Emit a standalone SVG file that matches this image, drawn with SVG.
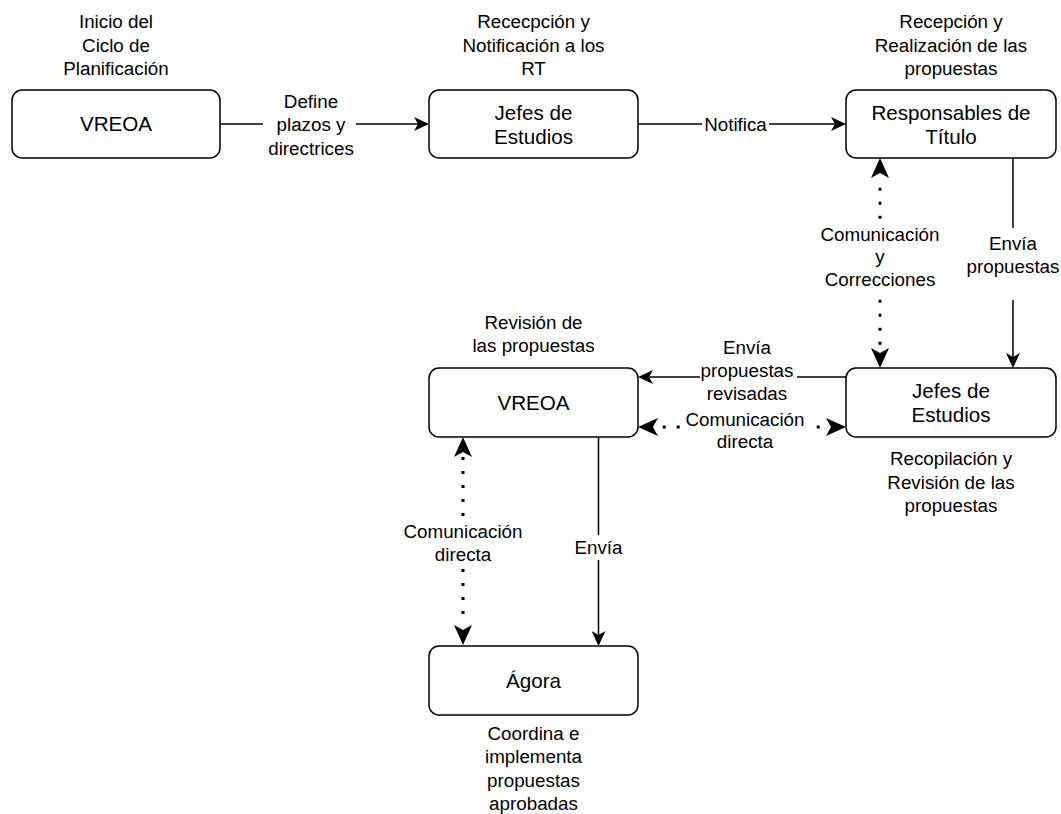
<svg xmlns="http://www.w3.org/2000/svg" width="1061" height="814" viewBox="0 0 1061 814">
<style>
.box{fill:#fff;stroke:#000;stroke-width:1.5}
.n{font-family:"Liberation Sans",Arial,Helvetica,sans-serif;font-size:20.6px;text-anchor:middle;fill:#000}
.t{font-family:"Liberation Sans",Arial,Helvetica,sans-serif;font-size:18.8px;text-anchor:middle;fill:#000}
.e{fill:none;stroke:#000;stroke-width:1.5}
.d{fill:none;stroke:#000;stroke-width:3;stroke-dasharray:3 11}
.bg{fill:#fff}
</style>
<defs>
<marker id="arr" markerUnits="userSpaceOnUse" viewBox="0 0 15 14" markerWidth="15" markerHeight="14" refX="13" refY="7" orient="auto">
<path d="M0,0 L15,7 L0,14 L4,7 Z" fill="#000"/>
</marker>
<marker id="darr" markerUnits="userSpaceOnUse" viewBox="0 0 20 18" markerWidth="20" markerHeight="18" refX="0" refY="9" orient="auto-start-reverse">
<path d="M0,0 L20,9 L0,18 L5,9 Z" fill="#000"/>
</marker>
</defs>
<rect width="1061" height="814" fill="#fff"/>

<g id="connectors">
<path class="e" d="M220,124 H427" marker-end="url(#arr)"/>
<path class="e" d="M638,124 H844" marker-end="url(#arr)"/>
<path class="e" d="M1013,158 V366" marker-end="url(#arr)"/>
<path class="d" d="M880,348 V178" style="stroke-dashoffset:-3.3" marker-start="url(#darr)" marker-end="url(#darr)"/>
<path class="e" d="M846,377 H640" marker-end="url(#arr)"/>
<path class="d" d="M658,427 H826" style="stroke-dashoffset:-4.7" marker-start="url(#darr)" marker-end="url(#darr)"/>
<path class="e" d="M598.5,437 V644" marker-end="url(#arr)"/>
<path class="d" d="M463,457 V625" marker-start="url(#darr)" marker-end="url(#darr)"/>

<g id="edge-labels">
<rect class="bg" x="263" y="90" width="93" height="70"/>
<text class="t" x="311" y="108">Define</text>
<text class="t" x="311" y="131">plazos y</text>
<text class="t" x="311" y="154.5">directrices</text>

<rect class="bg" x="702" y="112" width="67" height="24"/>
<text class="t" x="735.5" y="131">Notifica</text>

<rect class="bg" x="966" y="228" width="94" height="72"/>
<text class="t" x="1013" y="249.5">Envía</text>
<text class="t" x="1013" y="272.5">propuestas</text>

<rect class="bg" x="818" y="221" width="124" height="72"/>
<text class="t" x="880" y="240.5">Comunicación</text>
<text class="t" x="880" y="263">y</text>
<text class="t" x="880" y="285.5">Correcciones</text>

<rect class="bg" x="700" y="336" width="97" height="68"/>
<text class="t" x="747" y="353.5">Envía</text>
<text class="t" x="747" y="376.5">propuestas</text>
<text class="t" x="747" y="399.5">revisadas</text>

<rect class="bg" x="684" y="409" width="123" height="44"/>
<text class="t" x="745" y="425.5">Comunicación</text>
<text class="t" x="745" y="448">directa</text>

<rect class="bg" x="576" y="535" width="46" height="25"/>
<text class="t" x="598.5" y="554">Envía</text>

<rect class="bg" x="402" y="519" width="122" height="47"/>
<text class="t" x="463" y="538">Comunicación</text>
<text class="t" x="463" y="560.5">directa</text>
</g>
</g>

<g id="vreoa-inicio">
<text class="t" x="116" y="28">Inicio del</text>
<text class="t" x="116" y="51.5">Ciclo de</text>
<text class="t" x="116" y="75">Planificación</text>
<rect class="box" x="12" y="90" width="208" height="68" rx="10"/>
<text class="n" x="116" y="131.4">VREOA</text>
</g>

<g id="jefes-estudios-1">
<text class="t" x="533.5" y="28">Rececpción y</text>
<text class="t" x="533.5" y="51.5">Notificación a los</text>
<text class="t" x="533.5" y="75">RT</text>
<rect class="box" x="429" y="90" width="209" height="68" rx="10"/>
<text class="n" x="533.5" y="119.5">Jefes de</text>
<text class="n" x="533.5" y="143.5">Estudios</text>
</g>

<g id="responsables-titulo">
<text class="t" x="951" y="28">Recepción y</text>
<text class="t" x="951" y="51.5">Realización de las</text>
<text class="t" x="951" y="75">propuestas</text>
<rect class="box" x="846" y="90" width="210" height="68" rx="10"/>
<text class="n" x="951" y="119.5">Responsables de</text>
<text class="n" x="951" y="143.5">Título</text>
</g>

<g id="jefes-estudios-2">
<rect class="box" x="846" y="368" width="210" height="69" rx="10"/>
<text class="n" x="951" y="398">Jefes de</text>
<text class="n" x="951" y="422">Estudios</text>
<text class="t" x="951" y="465">Recopilación y</text>
<text class="t" x="951" y="488.5">Revisión de las</text>
<text class="t" x="951" y="512">propuestas</text>
</g>

<g id="vreoa-revision">
<text class="t" x="533.5" y="328.5">Revisión de</text>
<text class="t" x="533.5" y="352">las propuestas</text>
<rect class="box" x="429" y="368" width="209" height="69" rx="10"/>
<text class="n" x="533.5" y="410">VREOA</text>
</g>

<g id="agora">
<rect class="box" x="429" y="646" width="209" height="69" rx="10"/>
<text class="n" x="533.5" y="688">Ágora</text>
<text class="t" x="533.5" y="739.5">Coordina e</text>
<text class="t" x="533.5" y="763">implementa</text>
<text class="t" x="533.5" y="786.5">propuestas</text>
<text class="t" x="533.5" y="810">aprobadas</text>
</g>
</svg>
